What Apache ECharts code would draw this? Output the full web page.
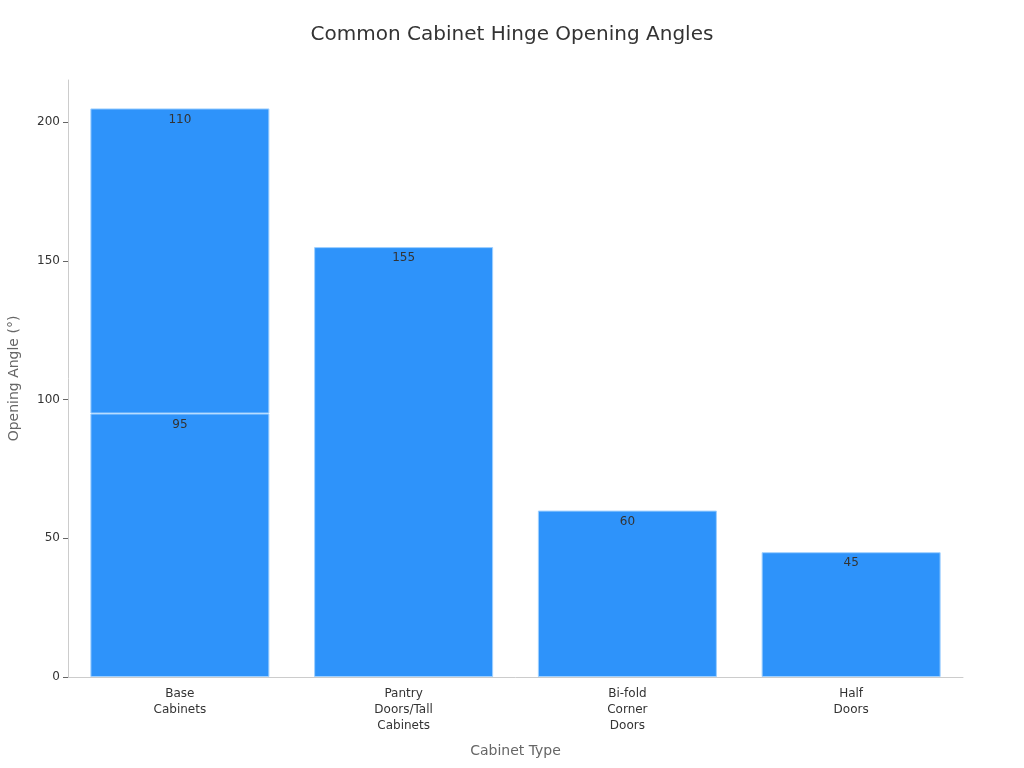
<!DOCTYPE html>
<html lang="en">
<head>
    <meta charset="UTF-8">
    <title>Common Cabinet Hinge Opening Angles</title>
    <script src="https://cdn.jsdelivr.net/npm/echarts@6/dist/echarts.min.js"></script>
    <style>
        html, body { margin: 0; padding: 0; background: #fff; }
    </style>
</head>
<body>
    <div id="main" style="width:1024px;height:768px;"></div>
    <script>
        var categories = ['Base\nCabinets', 'Pantry\nDoors/Tall\nCabinets', 'Bi-fold\nCorner\nDoors', 'Half\nDoors'];
        var baseAngles = [95, 155, 60, 45];
        var extraAngles = [110, '-', '-', '-'];
        var yTicks = { min: 0, max: 215.25, interval: 50 };

        var font = 'DejaVu Sans';
        var labelStyle = { show: true, position: 'insideTop', color: '#333', fontSize: 12, fontFamily: font, distance: 5 };
        var barStyle = { color: '#2E93FA', borderColor: '#9fd0ff', borderWidth: 1 };

        var myChart = echarts.init(document.getElementById('main'));
        var option = {
            animation: false,
            title: {
                text: 'Common Cabinet Hinge Opening Angles',
                left: 'center', top: 20,
                textStyle: { fontFamily: font, fontSize: 20, fontWeight: 'normal', color: '#333' }
            },
            grid: { left: 68, right: 61, top: 80, bottom: 91, outerBoundsMode: 'none' },
            xAxis: {
                type: 'category',
                data: categories,
                name: 'Cabinet Type',
                nameLocation: 'middle',
                nameGap: 67,
                nameTextStyle: { fontFamily: font, fontSize: 14, color: '#666' },
                axisLine: { lineStyle: { color: '#ccc' } },
                axisTick: { alignWithLabel: true, lineStyle: { color: '#666' } },
                axisLabel: { fontFamily: font, fontSize: 12, color: '#333', lineHeight: 16, margin: 9 }
            },
            yAxis: {
                type: 'value',
                min: yTicks.min, max: yTicks.max, interval: yTicks.interval,
                name: 'Opening Angle (°)',
                nameLocation: 'middle',
                nameGap: 47,
                nameTextStyle: { fontFamily: font, fontSize: 14, color: '#666' },
                axisLine: { show: true, lineStyle: { color: '#ccc' } },
                axisTick: { show: true, lineStyle: { color: '#666' } },
                splitLine: { show: false },
                axisLabel: { fontFamily: font, fontSize: 12, color: '#333', showMaxLabel: false }
            },
            series: [
                {
                    type: 'bar', stack: 'a', data: baseAngles,
                    barCategoryGap: '20%',
                    itemStyle: barStyle, label: labelStyle
                },
                {
                    type: 'bar', stack: 'a', data: extraAngles,
                    itemStyle: barStyle, label: labelStyle
                }
            ]
        };
        myChart.setOption(option);
    </script>
</body>
</html>
